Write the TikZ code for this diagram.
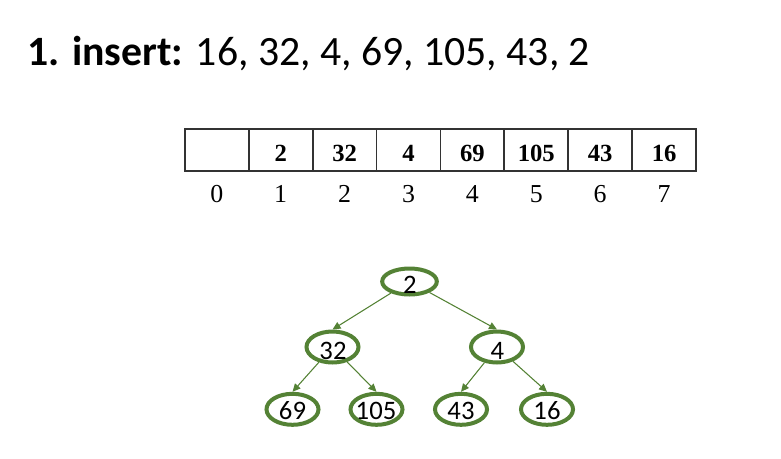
\documentclass[tikz,border=0pt]{standalone}
\usepackage{fontspec}
\setmainfont{Carlito}
\newfontfamily\tms{Liberation Serif}
\usetikzlibrary{shapes.geometric,arrows.meta}
\definecolor{hgreen}{HTML}{548235}
\definecolor{tline}{HTML}{333333}
\tikzset{
  cell/.style={draw=tline,line width=1.3pt,minimum width=48pt,minimum height=31.3pt,inner sep=0pt,outer sep=0pt},
  val/.style={font=\tms\fontsize{18.5}{18.5}\selectfont\bfseries,inner sep=0pt,anchor=base},
  idx/.style={font=\tms\fontsize{19.4}{19.4}\selectfont,inner sep=0pt,anchor=base},
  hnode/.style={ellipse,draw=hgreen,line width=3pt,minimum width=39pt,minimum height=23.25pt,inner sep=0pt},
  rootnode/.style={hnode,minimum width=41pt,minimum height=19.5pt},
  hlab/.style={font=\fontsize{20}{20}\selectfont,inner sep=0pt,anchor=base},
  harrow/.style={draw=hgreen,line width=0.8pt,-{Triangle[length=6pt,width=5.5pt]}}
}
\begin{document}
\begin{tikzpicture}[x=0.75pt,y=-0.75pt]
\useasboundingbox (0,0) rectangle (781,458);
% title
\node[anchor=base west,inner sep=0pt,font=\fontsize{31.3}{31.3}\selectfont] (title) at (27,65.7) {\textbf{1. insert:} 16, 32, 4, 69, 105, 43, 2};
% table
\foreach \i/\v in {0/,1/2,2/32,3/4,4/69,5/105,6/43,7/16}{
  \node[cell] (c\i) at (216.8+63.9*\i,149.9) {};
  \node[val] (v\i) at (216.8+63.9*\i,161) {\v};
  \node[idx] (n\i) at (216.8+63.9*\i,202.3) {\i};
}
% tree
\node[rootnode] (t2) at (409.5,281.5) {};
\node[hnode] (t32) at (332.5,347) {};
\node[hnode] (t4) at (497,347) {};
\node[hnode] (t69) at (292.5,409.3) {};
\node[hnode] (t105) at (376.5,409.3) {};
\node[hnode] (t43) at (461,409.3) {};
\node[hnode] (t16) at (547,409.3) {};
\node[hlab] (l2) at (410,293) {2};
\node[hlab] (l32) at (333,359.3) {32};
\node[hlab] (l4) at (497.5,359.3) {4};
\node[hlab] (l69) at (292.5,419.3) {69};
\node[hlab] (l105) at (376,419.3) {105};
\node[hlab] (l43) at (461,419.3) {43};
\node[hlab] (l16) at (547,419.3) {16};
\draw[harrow] (t2) -- (t32.north);
\draw[harrow] (t2) -- (t4.north);
\draw[harrow] (t32) -- (t69.north);
\draw[harrow] (t32) -- (t105.north);
\draw[harrow] (t4) -- (t43.north);
\draw[harrow] (t4) -- (t16.north);
\end{tikzpicture}
\end{document}
